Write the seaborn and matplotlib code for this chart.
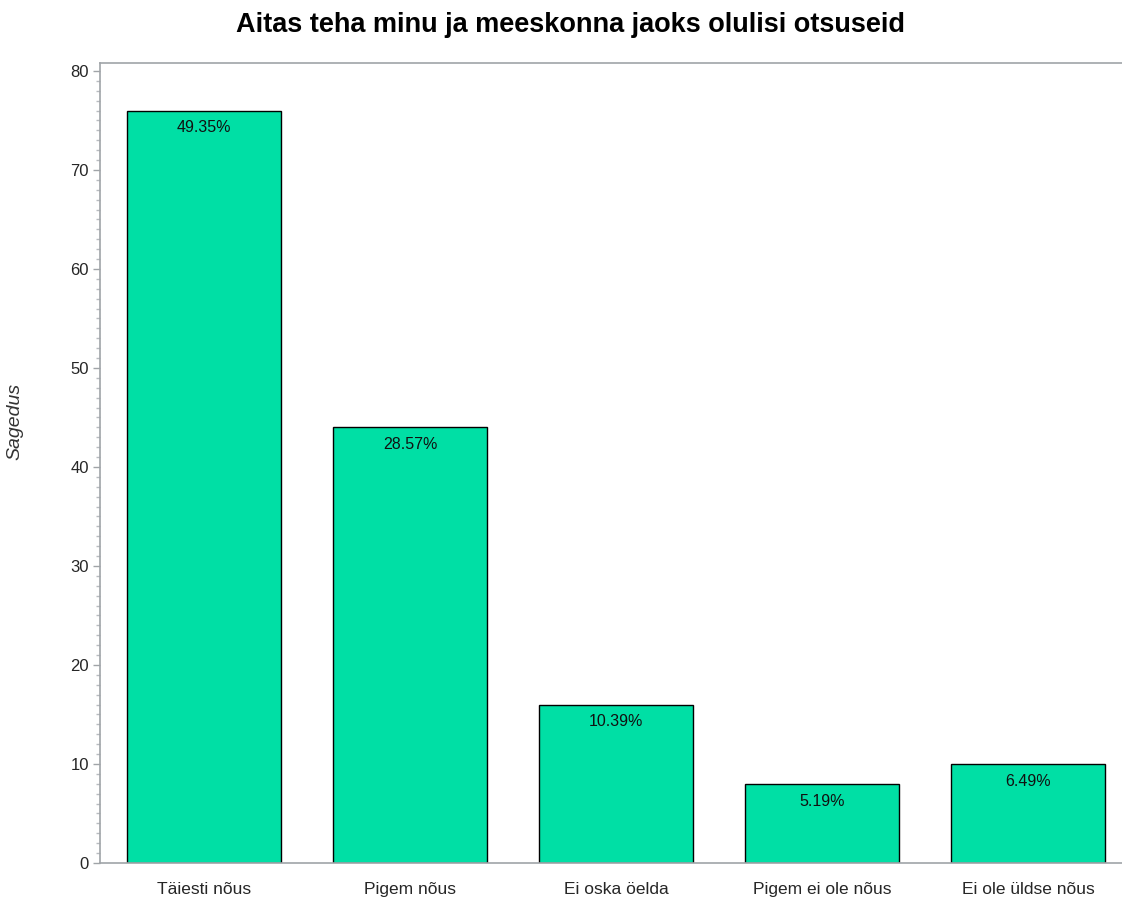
import matplotlib
matplotlib.use("Agg")
import matplotlib.pyplot as plt
from matplotlib.ticker import MultipleLocator
import seaborn as sns
import pandas as pd

categories = ["Täiesti nõus", "Pigem nõus", "Ei oska öelda", "Pigem ei ole nõus", "Ei ole üldse nõus"]
counts = [76, 44, 16, 8, 10]
title = "Aitas teha minu ja meeskonna jaoks olulisi otsuseid"
ylabel = "Sagedus"

sns.set_theme(style="white")
plt.rcParams["font.family"] = ["Liberation Sans", "DejaVu Sans"]

df = pd.DataFrame({"vastus": categories, "sagedus": counts})
total = sum(counts)

W, H = 1122, 899
fig = plt.figure(figsize=(W / 100, H / 100), dpi=100)
ax = fig.add_axes([100 / W, 1 - 863 / H, 1032 / W, 800 / H])

sns.barplot(data=df, x="vastus", y="sagedus", ax=ax, color="#00DFA5",
            saturation=1, width=0.75, edgecolor="black", linewidth=1.0)

# percentage of all answers, printed just inside the top of each bar
for i, c in enumerate(counts):
    ax.annotate(f"{c / total * 100:.2f}%", xy=(i, c), xytext=(0, -7),
                textcoords="offset points", ha="center", va="top",
                fontsize=11.5, color="#111111")

ax.set_xlim(-0.505, 4.505)
ax.set_ylim(0, 80.8)
ax.yaxis.set_major_locator(MultipleLocator(10))
ax.yaxis.set_minor_locator(MultipleLocator(1))
ax.tick_params(axis="y", which="major", length=5, width=1, color="#a0a4a8",
               labelsize=12, pad=3, left=True)
ax.tick_params(axis="y", which="minor", length=3, width=1, color="#b8bcc0", left=True)
ax.tick_params(axis="x", length=0, labelsize=12.5, pad=14)

for side in ["left", "bottom", "top", "right"]:
    ax.spines[side].set_color("#a0a4a8")
    ax.spines[side].set_linewidth(1.2)

ax.set_xlabel("")
ax.set_ylabel("")
fig.text(15 / W, 1 - 421 / H, ylabel, rotation=90, style="italic",
         fontsize=14, ha="center", va="center", color="#333333")

fig.text(571 / W, 1 - 25 / H, title, ha="center", va="center",
         fontsize=19.5, fontweight="bold", color="black")

fig.savefig("out.png", dpi=100)
